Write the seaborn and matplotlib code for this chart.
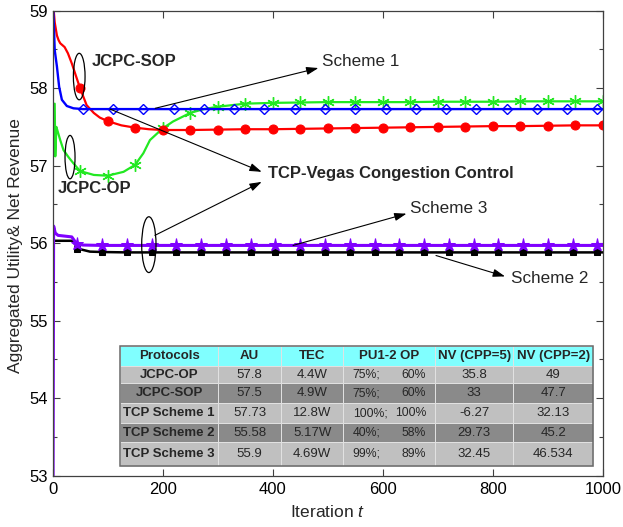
import matplotlib
matplotlib.use("Agg")
import matplotlib.pyplot as plt
from matplotlib.patches import Ellipse, Rectangle
from matplotlib.ticker import MultipleLocator
import seaborn as sns

# ---------------- data ----------------
# JCPC-SOP (red, filled circles every 50 iterations)
iter_sop = [1, 4, 8, 11, 14, 22, 28, 35, 42, 50, 62, 75, 86, 100, 125, 150, 175, 200,
            250, 300, 350, 400, 450, 500, 550, 600, 650, 700, 750, 800, 850, 900, 950, 1000]
au_sop = [59.10, 58.85, 58.68, 58.62, 58.58, 58.53, 58.45, 58.32, 58.17, 58.00, 57.78, 57.68,
          57.62, 57.575, 57.52, 57.49, 57.47, 57.46,
          57.46, 57.465, 57.47, 57.47, 57.475, 57.48, 57.485, 57.49, 57.495, 57.50, 57.505,
          57.51, 57.51, 57.515, 57.52, 57.52]

# JCPC-OP (green, asterisks every 50 iterations)
iter_op = [4, 5, 7, 14, 20, 29, 38, 50, 75, 100, 129, 150, 165, 177, 200, 219, 250, 275, 300,
           350, 400, 450, 500, 550, 600, 650, 700, 750, 800, 850, 900, 950, 1000]
au_op = [57.80, 57.12, 57.50, 57.33, 57.20, 57.11, 57.03, 56.93, 56.88, 56.87, 56.92, 57.01,
         57.16, 57.33, 57.48, 57.57, 57.68, 57.73, 57.76,
         57.80, 57.81, 57.815, 57.82, 57.82, 57.82, 57.82, 57.825, 57.825, 57.825, 57.83,
         57.83, 57.83, 57.83]

# TCP-Vegas Scheme 1 (blue, open diamonds every 55 iterations)
iter_s1 = [1, 4, 8, 12, 17, 26, 38, 55, 110, 165, 220, 275, 330, 385, 440, 495, 550, 605,
           660, 715, 770, 825, 880, 935, 990, 1000]
au_s1 = [59.10, 58.49, 58.28, 58.02, 57.85, 57.77, 57.74, 57.73, 57.73, 57.73, 57.73, 57.73,
         57.73, 57.73, 57.73, 57.73, 57.73, 57.73, 57.73, 57.73, 57.73, 57.73, 57.73, 57.73,
         57.73, 57.73]

# TCP-Vegas Scheme 2 (black, filled squares every 45 iterations)
iter_s2 = [2, 38, 45, 68, 90, 135, 180, 225, 270, 315, 360, 405, 450, 495, 540, 585, 630,
           675, 720, 765, 810, 855, 900, 945, 990, 1000]
au_s2 = [56.03, 56.03, 55.93, 55.89, 55.885, 55.88, 55.88, 55.88, 55.88, 55.88, 55.88, 55.88,
         55.88, 55.88, 55.88, 55.88, 55.88, 55.88, 55.88, 55.88, 55.88, 55.88, 55.88, 55.88,
         55.88, 55.88]

# TCP-Vegas Scheme 3 (purple, stars every 45 iterations)
iter_s3 = [1, 2, 5, 10, 35, 40, 45, 55, 90, 135, 180, 225, 270, 315, 360, 405, 450, 495, 540,
           585, 630, 675, 720, 765, 810, 855, 900, 945, 990, 1000]
au_s3 = [53.00, 56.22, 56.13, 56.10, 56.08, 56.03, 55.99, 55.975, 55.97, 55.97, 55.97, 55.97,
         55.97, 55.97, 55.97, 55.97, 55.97, 55.97, 55.97, 55.97, 55.97, 55.97, 55.97, 55.97,
         55.97, 55.97, 55.97, 55.97, 55.97, 55.97]

# summary table
table_cols = ["Protocols", "AU", "TEC", "PU1-2 OP", "NV (CPP=5)", "NV (CPP=2)"]
protocols = ["JCPC-OP", "JCPC-SOP", "TCP Scheme 1", "TCP Scheme 2", "TCP Scheme 3"]
au_table = ["57.8", "57.5", "57.73", "55.58", "55.9"]
tec_table = ["4.4W", "4.9W", "12.8W", "5.17W", "4.69W"]
pu1_table = ["75%;", "75%;", "100%;", "40%;", "99%;"]
pu2_table = ["60%", "60%", "100%", "58%", "89%"]
nv5_table = ["35.8", "33", "-6.27", "29.73", "32.45"]
nv2_table = ["49", "47.7", "32.13", "45.2", "46.534"]

# ---------------- style ----------------
sns.set_theme(style="ticks")
plt.rcParams["font.family"] = ["Liberation Sans", "DejaVu Sans"]
plt.rcParams["mathtext.fontset"] = "custom"
plt.rcParams["mathtext.rm"] = "Liberation Sans"
plt.rcParams["mathtext.it"] = "Liberation Sans:italic"

fig = plt.figure(figsize=(6.23, 5.27), dpi=100)
ax = fig.add_axes([0.0843, 0.0977, 0.8836, 0.8820])


def marks_at(xs, step):
    return [i for i, v in enumerate(xs) if v % step == 0]


common = dict(ax=ax, estimator=None, legend=False, sort=False)

sns.lineplot(x=iter_op, y=au_op, color="#22E822", lw=1.6, marker=(6, 2, 0), markersize=9,
             markeredgecolor="#22E822", markeredgewidth=1.0,
             markevery=marks_at(iter_op, 50), **common)
sns.lineplot(x=iter_sop, y=au_sop, color="#FF0000", lw=1.6, marker="o", markersize=6.5,
             markeredgecolor="#FF0000", markerfacecolor="#FF0000",
             markevery=marks_at(iter_sop, 50), **common)
sns.lineplot(x=iter_s1, y=au_s1, color="#0000FF", lw=1.7, marker="D", markersize=5.5,
             markeredgecolor="#0000FF", markerfacecolor="none", markeredgewidth=1.0,
             markevery=marks_at(iter_s1, 55), **common)
sns.lineplot(x=iter_s2, y=au_s2, color="#000000", lw=1.8, marker="s", markersize=5,
             markeredgecolor="#000000", markerfacecolor="#000000",
             markevery=marks_at(iter_s2, 45), **common)
sns.lineplot(x=iter_s3, y=au_s3, color="#8000FF", lw=2.2, marker="*", markersize=9.5,
             markeredgecolor="#8000FF", markerfacecolor="#8000FF",
             markevery=marks_at(iter_s3, 45), **common)

# ---------------- axes ----------------
ax.set_xlim(0, 1000)
ax.set_ylim(53, 59)
ax.xaxis.set_major_locator(MultipleLocator(200))
ax.yaxis.set_major_locator(MultipleLocator(1))
ax.yaxis.set_minor_locator(MultipleLocator(0.5))
ax.tick_params(which="both", direction="in", top=True, right=True, color="#404040",
               width=0.8, labelsize=12, labelcolor="black")
ax.tick_params(which="major", length=5)
ax.tick_params(which="minor", length=3)
ax.tick_params(axis="x", pad=4.5)
ax.tick_params(axis="y", pad=3.5)
for sp in ax.spines.values():
    sp.set_color("#404040")
    sp.set_linewidth(0.9)

ax.set_xlabel("Iteration $t$", fontsize=12.5)
ax.set_ylabel("Aggregated Utility& Net Revenue", fontsize=12.5)
ax.xaxis.set_label_coords(0.5, -0.061)
ax.yaxis.set_label_coords(-0.053, 0.495)

# ---------------- annotations ----------------
arrow = dict(arrowstyle="-|>,head_length=0.6,head_width=0.2", color="black", lw=0.8,
             mutation_scale=12, shrinkA=0, shrinkB=0)

for start, tip in [((186.5, 57.74), (483, 58.26)),
                   ((104.5, 57.73), (380, 56.92)),
                   ((186, 56.10), (380, 56.79)),
                   ((437, 55.97), (643, 56.38)),
                   ((696.6, 55.84), (822, 55.57))]:
    ax.annotate("", xy=tip, xytext=start, arrowprops=arrow)

for center, w, h in [((48.5, 58.15), 21.2, 0.60),
                     ((31.8, 57.11), 18.2, 0.56),
                     ((175, 55.98), 26, 0.72)]:
    ax.add_patch(Ellipse(center, w, h, fill=False, ec="black", lw=0.9, zorder=5))

ax.text(71.7, 58.35, "JCPC-SOP", fontsize=12, fontweight="bold", ha="left", va="center")
ax.text(10, 56.71, "JCPC-OP", fontsize=12, fontweight="bold", ha="left", va="center")
ax.text(391, 56.90, "TCP-Vegas Congestion Control", fontsize=12, fontweight="bold",
        ha="left", va="center")
ax.text(489.5, 58.34, "Scheme 1", fontsize=12.3, ha="left", va="center")
ax.text(649, 56.45, "Scheme 3", fontsize=12.3, ha="left", va="center")
ax.text(833, 55.54, "Scheme 2", fontsize=12.3, ha="left", va="center")

# ---------------- summary table (axes fractions) ----------------
col_edges = [0.1226, 0.3012, 0.4151, 0.5282, 0.6948, 0.8371, 0.9824]
row_edges = [0.2786, 0.2356, 0.1984, 0.1566, 0.1123, 0.0727, 0.0204]
row_fill = ["#80FFFF", "#C0C0C0", "#8A8A8A", "#C0C0C0", "#8A8A8A", "#C0C0C0"]
tkw = dict(transform=ax.transAxes, fontsize=9.5, va="center", zorder=7)

for r in range(6):
    top, bot = row_edges[r], row_edges[r + 1]
    for c in range(6):
        left, right = col_edges[c], col_edges[c + 1]
        ax.add_patch(Rectangle((left, bot), right - left, top - bot, transform=ax.transAxes,
                               facecolor=row_fill[r], edgecolor="#E2E2E2", lw=0.7, zorder=6))

ax.add_patch(Rectangle((col_edges[0], row_edges[-1]), col_edges[-1] - col_edges[0],
                       row_edges[0] - row_edges[-1], transform=ax.transAxes, fill=False,
                       edgecolor="#6A6A6A", lw=1.1, zorder=7))

centers_x = [(col_edges[c] + col_edges[c + 1]) / 2 for c in range(6)]
centers_y = [(row_edges[r] + row_edges[r + 1]) / 2 for r in range(6)]

for c, name in enumerate(table_cols):
    ax.text(centers_x[c], centers_y[0], name, ha="center", fontweight="bold", **tkw)

pu_kw = dict(tkw, fontsize=8.8)
for r in range(5):
    y = centers_y[r + 1]
    ax.text(centers_x[0], y, protocols[r], ha="center", fontweight="bold", **tkw)
    ax.text(centers_x[1], y, au_table[r], ha="center", **tkw)
    ax.text(centers_x[2], y, tec_table[r], ha="center", **tkw)
    ax.text(col_edges[3] + 0.017, y, pu1_table[r], ha="left", **pu_kw)
    ax.text(col_edges[4] - 0.016, y, pu2_table[r], ha="right", **pu_kw)
    ax.text(centers_x[4], y, nv5_table[r], ha="center", **tkw)
    ax.text(centers_x[5], y, nv2_table[r], ha="center", **tkw)

fig.savefig("out.png", dpi=100)
